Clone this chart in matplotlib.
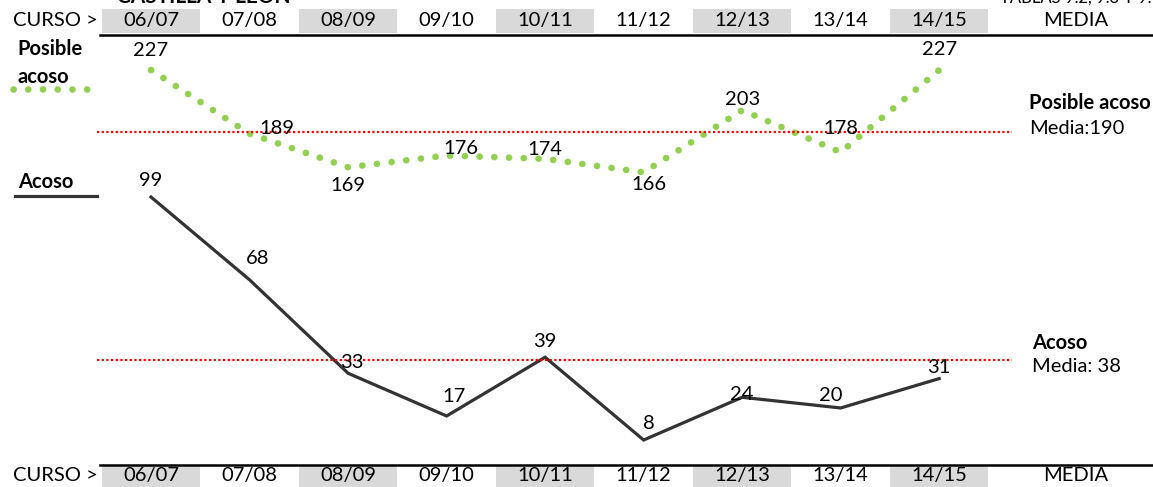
import matplotlib.pyplot as plt
from matplotlib.patches import Rectangle
from matplotlib.lines import Line2D

plt.rcParams['font.family'] = ['Lato', 'DejaVu Sans']

# Datos
cursos = ["06/07", "07/08", "08/09", "09/10", "10/11", "11/12", "12/13", "13/14", "14/15"]
posible_acoso = [227, 189, 169, 176, 174, 166, 203, 178, 227]
acoso = [99, 68, 33, 17, 39, 8, 24, 20, 31]
media_posible = 190
media_acoso = 38

# desplazamiento de las etiquetas (en puntos)
off_posible = [(0, 14), (20, 4), (0, -13), (10, 5), (0, 7), (4, -9), (0, 8), (0, 17), (0, 15)]
off_acoso = [(0, 12), (6, 15), (3, 8), (5, 14), (0, 11), (4, 12), (0, 2), (-7, 9), (0, 8)]

VERDE = "#92d050"
NEGRO = "#333333"
GRIS = "#d9d9d9"
FS = 14.5

fig = plt.figure(figsize=(11.53, 4.87), dpi=100)
ax = fig.add_axes([0, 0, 1, 1])
ax2 = ax.twinx()
x = list(range(len(cursos)))

ax.set_xlim(-1.533, 10.17)
ax.set_ylim(-9.6, 172.8)
ax2.set_ylim(-21.8, 268.8)
ax.axis("off")
ax2.axis("off")

# Acoso
ax.plot(x, acoso, color=NEGRO, lw=2.3, solid_joinstyle="miter")
for xi, v, off in zip(x, acoso, off_acoso):
    ax.annotate(str(v), (xi, v), xytext=off, textcoords="offset points",
                ha="center", va="center", fontsize=FS)
ax.hlines(media_acoso, -0.55, 8.74, colors="red", linestyles=(0, (1, 1.1)), lw=1.6)

# Posible acoso
ax2.plot(x, posible_acoso, color=VERDE, lw=4.8, linestyle=(0, (0.01, 2.2)),
         dash_capstyle="round")
for xi, v, off in zip(x, posible_acoso, off_posible):
    ax2.annotate(str(v), (xi, v), xytext=off, textcoords="offset points",
                 ha="center", va="center", fontsize=FS)
ax2.hlines(media_posible, -0.55, 8.74, colors="red", linestyles=(0, (1, 1.1)), lw=1.6)

# Cabeceras arriba y abajo
tr = ax.get_xaxis_transform()
for y0, h, ytxt, yline in [(0.932, 0.05, 0.957, 0.928), (0.0, 0.043, 0.023, 0.045)]:
    for i, c in enumerate(cursos):
        if i % 2 == 0:
            ax.add_patch(Rectangle((i - 0.5, y0), 1.0, h, transform=tr,
                                   facecolor=GRIS, edgecolor="none", clip_on=False))
        ax.text(i, ytxt, c, transform=tr, ha="center", va="center", fontsize=FS)
    ax.text(-0.54, ytxt, "CURSO >", transform=tr, ha="right", va="center", fontsize=FS)
    ax.text(9.39, ytxt, "MEDIA", transform=tr, ha="center", va="center", fontsize=FS)
    ax.plot([-0.52, 10.17], [yline, yline], transform=tr, color="black", lw=1.8,
            clip_on=False)

# Titulos cortados (como en el original)
fig.text(117 / 1153, 1.006, "CASTILLA Y LEÓN", fontsize=15, fontweight="bold",
         ha="left", va="center")
fig.text(1000 / 1153, 1.004, "TABLAS 9.2, 9.3 Y 9.4", fontsize=12,
         ha="left", va="center")

# Leyenda izquierda
fig.text(17 / 1153, 1 - 63 / 487, "Posible\nacoso", fontsize=FS, fontweight="bold",
         ha="left", va="center", linespacing=1.55)
fig.add_artist(Line2D([13 / 1153, 96 / 1153], [1 - 89 / 487] * 2, color=VERDE,
                      lw=4.8, linestyle=(0, (0.01, 2.2)), dash_capstyle="round"))
fig.text(18 / 1153, 1 - 182 / 487, "Acoso", fontsize=FS, fontweight="bold",
         ha="left", va="center")
fig.add_artist(Line2D([15 / 1153, 97 / 1153], [1 - 196 / 487] * 2, color=NEGRO, lw=2.3))

# Textos de la media
fig.text(1029 / 1153, 1 - 103 / 487, "Posible acoso", fontsize=FS, fontweight="bold",
         ha="left", va="center")
fig.text(1029 / 1153, 1 - 128 / 487, f"Media:{media_posible}", fontsize=FS,
         ha="left", va="center")
fig.text(1032 / 1153, 1 - 343 / 487, "Acoso", fontsize=FS, fontweight="bold",
         ha="left", va="center")
fig.text(1032 / 1153, 1 - 367 / 487, f"Media: {media_acoso}", fontsize=FS,
         ha="left", va="center")

fig.savefig("out.png", dpi=100)
